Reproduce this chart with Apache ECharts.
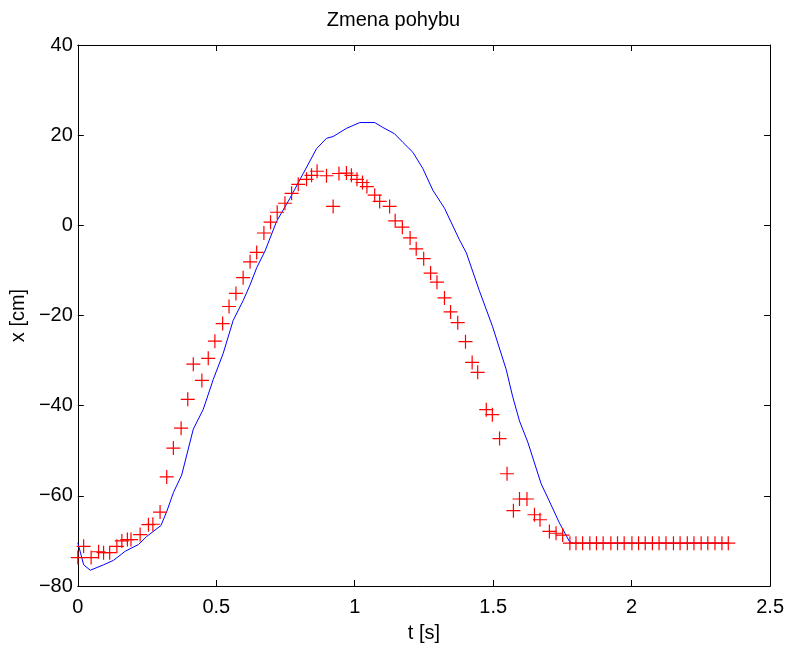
<!DOCTYPE html>
<html><head><meta charset="utf-8">
<script src="https://cdn.jsdelivr.net/npm/echarts@6/dist/echarts.min.js"></script>
<style>html,body{margin:0;padding:0;background:#fff}#c{width:787px;height:648px}</style>
</head><body><div id="c"></div>
<script>
// Measured (red +) samples
const markerT = [0.000,0.021,0.048,0.075,0.093,0.115,0.141,0.159,0.179,0.192,0.225,0.255,0.271,0.297,0.321,0.345,0.373,0.397,0.417,0.448,0.471,0.495,0.523,0.546,0.571,0.597,0.622,0.646,0.672,0.696,0.720,0.748,0.772,0.796,0.826,0.844,0.864,0.898,0.922,0.943,0.970,0.988,1.008,1.028,1.044,1.072,1.090,1.126,1.146,1.172,1.200,1.222,1.249,1.274,1.297,1.324,1.346,1.372,1.400,1.424,1.444,1.475,1.497,1.523,1.550,1.573,1.595,1.622,1.649,1.669,1.703,1.727,1.751,1.777,1.799,1.823,1.849,1.873,1.897,1.925,1.949,1.973,2.001,2.025,2.049,2.075,2.099,2.124,2.151,2.175,2.201,2.225,2.251,2.275,2.301,2.326,2.349];
const markerX = [-73.7,-71.2,-73.7,-72.4,-72.6,-72.6,-71.2,-70.0,-69.7,-69.7,-68.6,-66.4,-66.3,-63.6,-55.8,-49.4,-45.0,-38.6,-30.8,-34.4,-29.5,-25.7,-21.8,-18.0,-15.1,-11.6,-8.1,-6.0,-1.7,0.7,2.9,4.9,7.1,9.1,10.2,11.1,12.0,11.0,4.2,11.5,11.6,11.1,10.2,9.5,8.6,6.7,5.3,4.2,1.0,-0.4,-2.8,-5.2,-7.4,-10.6,-12.6,-16.1,-19.2,-21.6,-25.8,-30.4,-32.6,-40.9,-42.0,-47.3,-55.1,-63.3,-60.7,-60.7,-64.2,-65.3,-67.9,-68.3,-68.7,-70.5,-70.5,-70.5,-70.5,-70.5,-70.5,-70.5,-70.5,-70.5,-70.5,-70.5,-70.5,-70.5,-70.5,-70.5,-70.5,-70.5,-70.5,-70.5,-70.5,-70.5,-70.5,-70.5,-70.5];
// Model (blue line)
const lineT = [0.000,0.021,0.045,0.093,0.129,0.171,0.219,0.249,0.300,0.321,0.345,0.375,0.417,0.453,0.489,0.525,0.561,0.597,0.622,0.646,0.676,0.718,0.766,0.814,0.862,0.898,0.922,0.970,1.018,1.072,1.102,1.144,1.174,1.210,1.246,1.282,1.324,1.378,1.403,1.450,1.498,1.547,1.570,1.595,1.625,1.673,1.709,1.739,1.775,1.786,2.000,2.200,2.349];
const lineX = [-70.4,-75.3,-76.5,-75.3,-74.3,-72.3,-70.8,-69.0,-66.6,-63.5,-59.3,-55.4,-45.2,-40.8,-34.2,-28.4,-21.1,-16.7,-13.2,-9.4,-5.7,0.9,6.0,11.5,17.0,19.3,19.7,21.5,22.8,22.8,21.7,20.3,18.4,16.2,12.6,7.8,3.8,-3.2,-6.1,-14.5,-22.5,-32.0,-37.9,-43.4,-48.1,-57.3,-62.0,-66.0,-70.1,-70.5,-70.5,-70.5,-70.5];
const xTicks = [0, 0.5, 1, 1.5, 2, 2.5];
const yTicks = [-80, -60, -40, -20, 0, 20, 40];
const titleText = 'Zmena pohybu';
const xName = 't [s]';
const yName = 'x [cm]';

const FONT = 'Liberation Sans';
const FS = 20;
const chart = echarts.init(document.getElementById('c'), null, {renderer: 'canvas'});
const axisBase = {
  axisLine: {show: true, onZero: false, lineStyle: {color: '#000', width: 1}},
  axisTick: {show: true, inside: true, length: 6, lineStyle: {color: '#000', width: 1}},
  splitLine: {show: false}
};
const fmt = v => String(v).replace('-', '\u2212');
const xOpt = {type: 'value', min: xTicks[0], max: xTicks[xTicks.length-1], interval: xTicks[1]-xTicks[0]};
const yOpt = {type: 'value', min: yTicks[0], max: yTicks[yTicks.length-1], interval: yTicks[1]-yTicks[0]};
chart.setOption({
  animation: false,
  backgroundColor: '#fff',
  title: {text: titleText, left: 'center', top: 5, textStyle: {fontFamily: FONT, fontSize: FS, fontWeight: 'normal', color: '#000'}},
  grid: {left: 77.5, top: 45, width: 693.8, height: 547, containLabel: false},
  xAxis: [
    Object.assign({}, axisBase, xOpt, {position: 'bottom', name: xName, nameLocation: 'middle', nameGap: 37,
      nameTextStyle: {fontFamily: FONT, fontSize: FS, color: '#000'},
      axisLabel: {fontFamily: FONT, fontSize: FS, color: '#000', margin: 11, formatter: fmt}}),
    Object.assign({}, axisBase, xOpt, {position: 'top', axisLabel: {show: false}})
  ],
  yAxis: [
    Object.assign({}, axisBase, yOpt, {position: 'left', name: yName, nameLocation: 'middle', nameGap: 47, nameRotate: 90,
      nameTextStyle: {fontFamily: FONT, fontSize: FS, color: '#000'},
      axisLabel: {fontFamily: FONT, fontSize: FS, color: '#000', margin: 5, formatter: fmt}}),
    Object.assign({}, axisBase, yOpt, {position: 'right', axisLabel: {show: false}})
  ],
  series: [
    {type: 'line', xAxisIndex: 0, yAxisIndex: 0, data: lineT.map((t,i)=>[t,lineX[i]]), showSymbol: false, symbol: 'none',
      lineStyle: {color: '#0000ff', width: 1}, z: 2},
    {type: 'scatter', xAxisIndex: 0, yAxisIndex: 0, data: markerT.map((t,i)=>[t,markerX[i]]),
      symbol: 'path://M7,0L7,14M0,7L14,7', symbolSize: 14,
      itemStyle: {color: 'none', borderColor: '#ff0000', borderWidth: 1.2, opacity: 1}, z: 3}
  ]
});
</script></body></html>
